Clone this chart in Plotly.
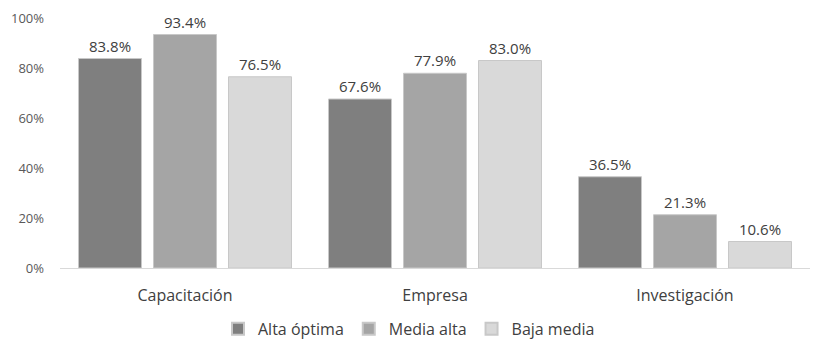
import plotly.graph_objects as go

categories = ["Capacitación", "Empresa", "Investigación"]
series_names = ["Alta óptima", "Media alta", "Baja media"]
alta_optima = [83.8, 67.6, 36.5]
media_alta = [93.4, 77.9, 21.3]
baja_media = [76.5, 83.0, 10.6]
tick_vals = [0, 20, 40, 60, 80, 100]
tick_text = ["0%", "20%", "40%", "60%", "80%", "100%"]

colors = ["#7f7f7f", "#a5a5a5", "#d9d9d9"]
font_family = "Open Sans, Liberation Sans, sans-serif"

fig = go.Figure()
for name, vals, col in zip(series_names, [alta_optima, media_alta, baja_media], colors):
    fig.add_trace(go.Bar(
        x=categories, y=vals, name=name,
        marker=dict(color=col, line=dict(color="#c8c8c8", width=1)),
        text=[f"{v:.1f}%" for v in vals], textposition="outside",
        textfont=dict(size=15, color="#404040", family=font_family),
        cliponaxis=False,
    ))

fig.update_layout(
    width=818, height=359,
    margin=dict(l=60, r=8, t=18, b=91, autoexpand=False),
    paper_bgcolor="white", plot_bgcolor="white",
    barmode="group", bargap=0.1, bargroupgap=0.16,
    font=dict(family=font_family, color="#404040"),
    legend=dict(orientation="h", xref="container", x=0.5, xanchor="center",
                yref="container", y=0.084, yanchor="middle",
                font=dict(size=16, color="#404040"), itemsizing="constant",
                traceorder="normal", itemwidth=30),
    xaxis=dict(showline=True, linecolor="#d9d9d9", linewidth=1, ticks="",
               tickfont=dict(size=16, color="#404040"), automargin=False,
               ticklabelstandoff=13),
    yaxis=dict(range=[0, 100], tickvals=tick_vals, ticktext=tick_text,
               showgrid=False, zeroline=False, showline=False, automargin=False,
               tickfont=dict(size=13, color="#595959"), ticklabelstandoff=15),
)
fig.write_html("out.html", config={"displayModeBar": False},
               post_script="document.body.style.margin='0';")
